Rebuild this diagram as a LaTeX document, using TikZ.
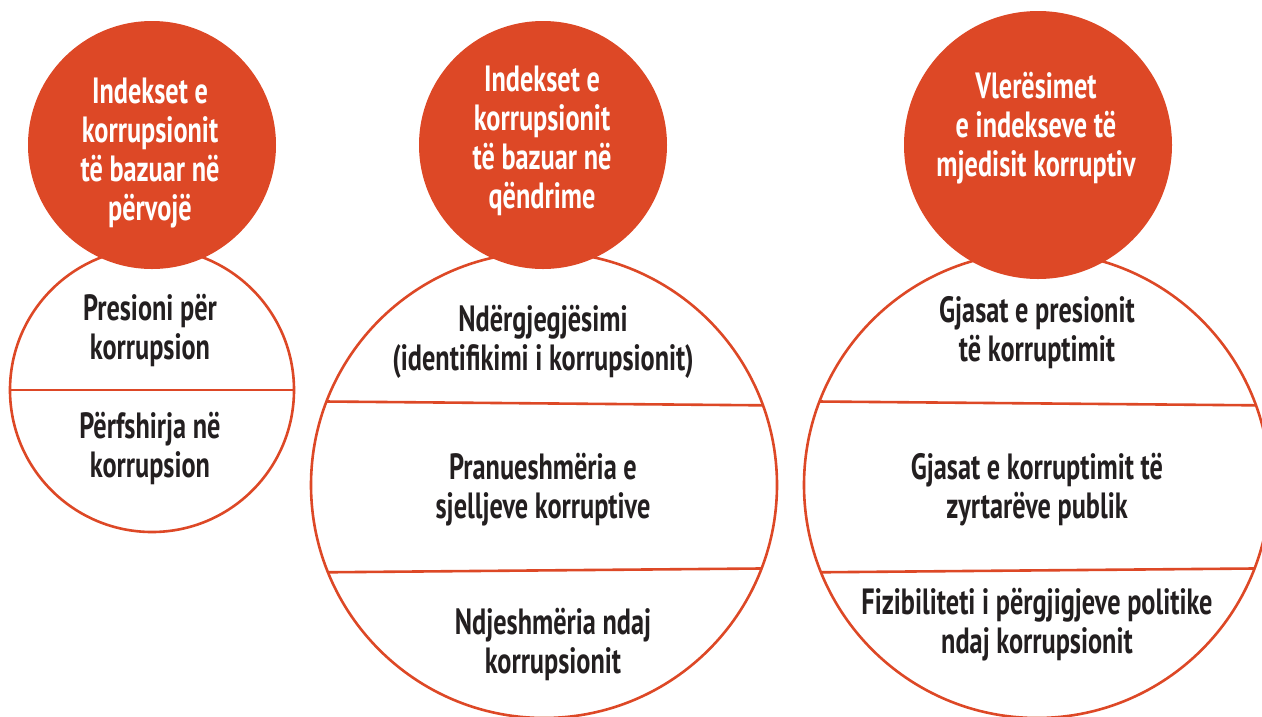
\documentclass[tikz,border=0pt]{standalone}
\usepackage{fontspec}
\setmainfont{PT Sans}[FakeStretch=0.72]
\usepackage{xcolor}
\usepackage{tikz}
\usetikzlibrary{shapes}
\usetikzlibrary{positioning}
\definecolor{rouge}{RGB}{221,72,38}
\definecolor{encre}{RGB}{35,31,32}
\tikzstyle{titre}=[circle,fill=rouge,draw=none,inner sep=0pt,outer sep=0pt]
\tikzstyle{cercle}=[circle,draw=rouge,line width=2.6pt,fill=white,inner sep=0pt,outer sep=0pt]
\tikzstyle{blanc}=[align=center,text=white,font=\bfseries\fontsize{36.5}{39}\selectfont,inner sep=0pt,anchor=north]
\tikzstyle{noir}=[align=center,text=encre,font=\bfseries\fontsize{36.5}{39}\selectfont,inner sep=0pt,anchor=north]
\tikzstyle{trait}=[draw=rouge,line width=2.6pt]

\begin{document}
\begin{tikzpicture}[x=1pt,y=-1pt]
\useasboundingbox (0,0) rectangle (1262,716);
\node[cercle,minimum size=284] (bas1) at (152,390) {};
\node[cercle,minimum size=466] (bas2) at (544,485) {};
\node[cercle,minimum size=466] (bas3) at (1037,485) {};
\node[titre,minimum size=248] (haut1) at (152,145) {};
\node[titre,minimum size=248] (haut2) at (543,145) {};
\node[titre,minimum size=268] (haut3) at (1038,145) {};
%Dividing lines
\draw[trait] (bas1.west) -- (bas1.east);
\draw[trait] (bas2.159.4) -- (bas2.20.6);
\draw[trait] (bas2.-158.6) -- (bas2.-21.4);
\draw[trait] (bas3.159.4) -- (bas3.20.6);
\draw[trait] (bas3.-158.6) -- (bas3.-21.4);
%Texts
\node[blanc] (th1) at (150,78) {Indekset e\\korrupsionit\\të bazuar në\\përvojë};
\node[blanc] (th2) at (542,66) {Indekset e\\korrupsionit\\të bazuar në\\qëndrime};
\node[blanc] (th3) at (1036,72) {Vlerësimet\\e indekseve të\\mjedisit korruptiv};
\node[noir] (a1) at (150,294) {Presioni për\\korrupsion};
\node[noir] (b1) at (150,412) {Përfshirja në\\korrupsion};
\node[noir] (a2) at (543,305) {Ndërgjegjësimi\\(identifikimi i korrupsionit)};
\node[noir] (b2) at (543,453) {Pranueshmëria e\\sjelljeve korruptive};
\node[noir] (c2) at (553,608) {Ndjeshmëria ndaj\\korrupsionit};
\node[noir] (a3) at (1037,296) {Gjasat e presionit\\të korruptimit};
\node[noir] (b3) at (1037,453) {Gjasat e korruptimit të\\zyrtarëve publik};
\node[noir] (c3) at (1037,588) {Fizibiliteti i përgjigjeve politike\\ndaj korrupsionit};
\end{tikzpicture}
\end{document}
